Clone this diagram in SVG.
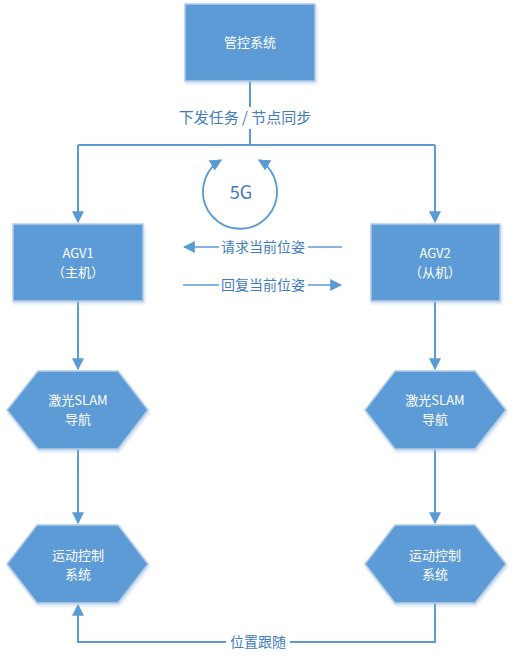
<svg xmlns="http://www.w3.org/2000/svg" width="515" height="661" viewBox="0 0 515 661">
<defs>
<style>
.n{fill:#5b9bd5;stroke:#b4cde9;stroke-width:1.5}
.t{fill:#fff;font-family:"Microsoft YaHei","Noto Sans CJK SC",sans-serif;font-size:13px;text-anchor:middle}
.l{fill:#3f7cc0;font-family:"Microsoft YaHei","Noto Sans CJK SC",sans-serif;font-size:14px;text-anchor:middle}
.c{fill:none;stroke:#5b9bd5;stroke-width:2}
</style>
<marker id="a" viewBox="0 0 10 10" refX="9" refY="5" markerWidth="12" markerHeight="12" orient="auto-start-reverse" markerUnits="userSpaceOnUse"><path d="M0,0L10,5L0,10z" fill="#5b9bd5"/></marker>
<filter id="sh" x="-10%" y="-10%" width="130%" height="130%"><feDropShadow dx="1" dy="2" stdDeviation="1.5" flood-color="#9db7d8" flood-opacity="0.5"/></filter>
</defs>
<g id="connectors">
<path class="c" d="M250,81V145"/>
<path class="c" d="M78,145H435"/>
<path class="c" d="M78,145V222" marker-end="url(#a)"/>
<path class="c" d="M435,145V222" marker-end="url(#a)"/>
<path class="c" d="M78,301V369" marker-end="url(#a)"/>
<path class="c" d="M435,301V369" marker-end="url(#a)"/>
<path class="c" d="M78,449V523" marker-end="url(#a)"/>
<path class="c" d="M435,449V523" marker-end="url(#a)"/>
<path class="c" d="M435,603V642H78V605" marker-end="url(#a)"/>
<path class="c" d="M221,160A37,37 0 1 0 259,160" marker-start="url(#a)" marker-end="url(#a)" style="stroke-width:1.8"/>
<path class="c" d="M342,247H184" marker-end="url(#a)" style="stroke-width:1.5"/>
<path class="c" d="M183,285H341" marker-end="url(#a)" style="stroke-width:1.5"/>
<rect x="219" y="237" width="89" height="20" fill="#fff"/>
<rect x="219" y="275" width="89" height="20" fill="#fff"/>
<rect x="226" y="632" width="64" height="20" fill="#fff"/>
<rect x="170" y="107" width="150" height="22" fill="#fff"/>
<text class="l" x="245" y="123" style="font-size:15px">下发任务 / 节点同步</text>
<text class="l" x="241" y="199" style="font-size:18px">5G</text>
<text class="l" x="263" y="252">请求当前位姿</text>
<text class="l" x="263" y="290">回复当前位姿</text>
<text class="l" x="258" y="647">位置跟随</text>
</g>
<g id="mgmt"><rect class="n" filter="url(#sh)" x="185" y="4" width="130" height="77"/><text class="t" x="250" y="47">管控系统</text></g>
<g id="agv1"><rect class="n" filter="url(#sh)" x="13" y="224" width="130" height="77"/><text class="t" x="78" y="258">AGV1</text><text class="t" x="78" y="277">（主机）</text></g>
<g id="agv2"><rect class="n" filter="url(#sh)" x="371" y="224" width="129" height="77"/><text class="t" x="435" y="258">AGV2</text><text class="t" x="435" y="277">（从机）</text></g>
<g id="slam1"><polygon class="n" filter="url(#sh)" points="38,371 118,371 148,410 118,449 38,449 7,410"/><text class="t" x="78" y="405">激光SLAM</text><text class="t" x="78" y="424">导航</text></g>
<g id="slam2"><polygon class="n" filter="url(#sh)" points="395,371 475,371 506,410 475,449 395,449 365,410"/><text class="t" x="435" y="405">激光SLAM</text><text class="t" x="435" y="424">导航</text></g>
<g id="mc1"><polygon class="n" filter="url(#sh)" points="37,525 118,525 148,564 118,603 37,603 7,564"/><text class="t" x="78" y="560">运动控制</text><text class="t" x="78" y="579">系统</text></g>
<g id="mc2"><polygon class="n" filter="url(#sh)" points="395,525 475,525 506,564 475,603 395,603 365,564"/><text class="t" x="435" y="560">运动控制</text><text class="t" x="435" y="579">系统</text></g>
</svg>
